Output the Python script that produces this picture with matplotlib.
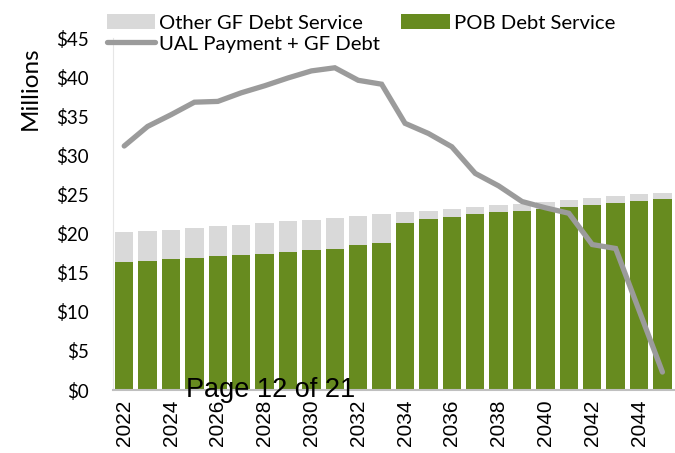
#!/usr/bin/env python3

import matplotlib.pyplot as plt
import numpy as np

years = list(range(2022, 2046))
pob = [16.4, 16.5, 16.75, 16.9, 17.1, 17.25, 17.4, 17.65, 17.85, 18.0, 18.6, 18.8,
       21.4, 21.9, 22.1, 22.55, 22.75, 22.95, 23.2, 23.4, 23.65, 23.9, 24.15, 24.4]
total_gf = [20.2, 20.3, 20.5, 20.7, 21.0, 21.1, 21.4, 21.6, 21.8, 22.0, 22.25, 22.45,
            22.7, 22.9, 23.1, 23.4, 23.6, 23.8, 24.05, 24.3, 24.55, 24.75, 25.05, 25.2]
other_gf = [t - p for t, p in zip(total_gf, pob)]
ual_plus_gf = [31.2, 33.7, 35.2, 36.8, 36.9, 38.0, 38.9, 39.9, 40.8, 41.2, 39.6, 39.1,
               34.1, 32.8, 31.1, 27.7, 26.1, 24.1, 23.3, 22.6, 18.6, 18.1, 10.2, 2.3]
y_ticks = [0, 5, 10, 15, 20, 25, 30, 35, 40, 45]

green = '#678B1F'
light = '#D9D9D9'
line_gray = '#9B9B9B'
cond = ['Lato', 'DejaVu Sans']

fig = plt.figure(figsize=(6.75, 4.53), dpi=100)
ax = fig.add_axes([0.1667, 0.139, 0.832, 0.777])

x = np.arange(len(years))
b1 = ax.bar(x, pob, width=0.79, color=green, zorder=2)
b2 = ax.bar(x, other_gf, bottom=pob, width=0.79, color=light, zorder=2)
l1, = ax.plot(x, ual_plus_gf, color=line_gray, linewidth=3.8, zorder=3,
              solid_capstyle='round', solid_joinstyle='miter')

ax.set_xlim(-0.5, 23.5)
ax.set_ylim(0, 45)
ax.set_yticks(y_ticks)
ax.set_yticklabels([f'${v}' for v in y_ticks], family=cond, fontsize=13.5)
ax.set_xticks(x[::2])
ax.set_xticklabels([str(y) for y in years[::2]], rotation=90,
                   family='Liberation Sans', fontsize=15)
ax.tick_params(axis='y', length=0, pad=17)
ax.tick_params(axis='x', length=0, pad=7)

for side in ['top', 'right']:
    ax.spines[side].set_visible(False)
ax.spines['bottom'].set_color('#BFBFBF')
ax.spines['bottom'].set_linewidth(1.5)
ax.spines['left'].set_color('#E6E6E6')

fig.text(30 / 675, 1 - 88 / 453, 'Millions', rotation=90, ha='center', va='center',
         family=cond, fontsize=17.5)

ax.legend([b2, l1, b1],
          ['Other GF Debt Service', 'UAL Payment + GF Debt', 'POB Debt Service'],
          ncol=2, loc='upper left', bbox_to_anchor=(-0.025, 1.09),
          frameon=False, prop={'family': cond, 'size': 14.6},
          handlelength=2.4, handleheight=0.7, handletextpad=0.2,
          columnspacing=1.05, labelspacing=0.18, borderaxespad=0)

fig.text(186 / 675, 1 - 397 / 453, 'Page 12 of 21', family='Liberation Sans',
         fontsize=19.5, color='black', va='baseline', ha='left', zorder=5)

fig.savefig('out.png', dpi=100)
